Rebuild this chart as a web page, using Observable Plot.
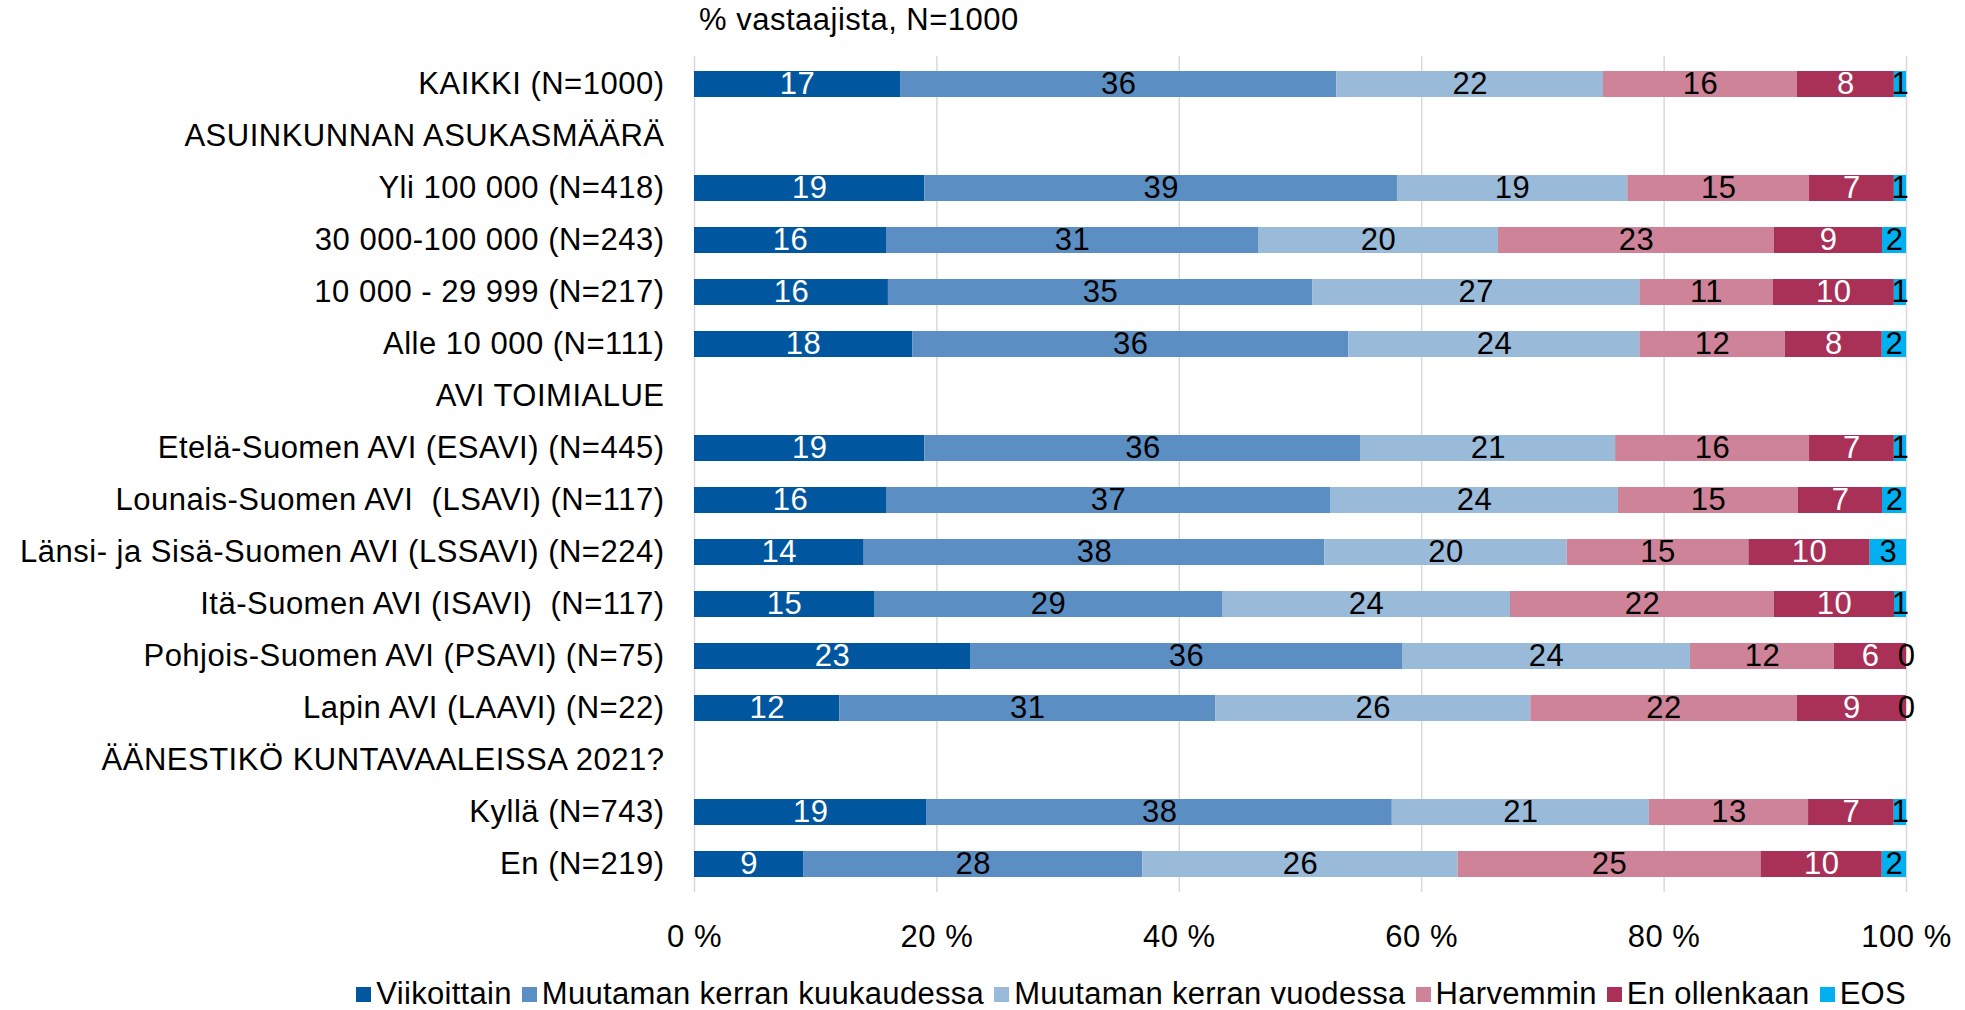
<!DOCTYPE html>
<html><head><meta charset="utf-8">
<script src="https://cdn.jsdelivr.net/npm/d3@7"></script>
<script src="https://cdn.jsdelivr.net/npm/@observablehq/plot@0.6"></script>
<style>
body{margin:0;background:#fff;font-family:"Liberation Sans",Arial,sans-serif;color:#000;}
#wrap{position:relative;width:1965px;height:1010px;overflow:hidden;}
#sub{position:absolute;left:699px;top:0;height:40px;line-height:40px;font-size:31px;letter-spacing:0.5px;}
#chart{position:absolute;left:0;top:40px;}
#legend{position:absolute;right:59px;top:979px;display:flex;align-items:center;font-size:31px;line-height:30px;white-space:nowrap;letter-spacing:0.3px;}
.item{display:flex;align-items:center;margin-left:10px;}
.sw{width:15px;height:15px;margin-right:5px;}
svg text{white-space:pre;letter-spacing:0.5px;}
</style></head><body>
<div id="wrap">
<div id="sub">% vastaajista, N=1000</div>
<div id="chart"></div>
<div id="legend"></div>
</div>
<script>
const rows = ["KAIKKI (N=1000)","ASUINKUNNAN ASUKASMÄÄRÄ","Yli 100 000 (N=418)","30 000-100 000 (N=243)","10 000 - 29 999 (N=217)","Alle 10 000 (N=111)","AVI TOIMIALUE","Etelä-Suomen AVI (ESAVI) (N=445)","Lounais-Suomen AVI  (LSAVI) (N=117)","Länsi- ja Sisä-Suomen AVI (LSSAVI) (N=224)","Itä-Suomen AVI (ISAVI)  (N=117)","Pohjois-Suomen AVI (PSAVI) (N=75)","Lapin AVI (LAAVI) (N=22)","ÄÄNESTIKÖ KUNTAVAALEISSA 2021?","Kyllä (N=743)","En (N=219)"];
const groups = ["KAIKKI (N=1000)","Yli 100 000 (N=418)","30 000-100 000 (N=243)","10 000 - 29 999 (N=217)","Alle 10 000 (N=111)","Etelä-Suomen AVI (ESAVI) (N=445)","Lounais-Suomen AVI  (LSAVI) (N=117)","Länsi- ja Sisä-Suomen AVI (LSSAVI) (N=224)","Itä-Suomen AVI (ISAVI)  (N=117)","Pohjois-Suomen AVI (PSAVI) (N=75)","Lapin AVI (LAAVI) (N=22)","Kyllä (N=743)","En (N=219)"];
const seriesNames = ["Viikoittain","Muutaman kerran kuukaudessa","Muutaman kerran vuodessa","Harvemmin","En ollenkaan","EOS"];
const viikoittain = [17,19,16,16,18,19,16,14,15,23,12,19,9];
const kuukausi    = [36,39,31,35,36,36,37,38,29,36,31,38,28];
const vuosi       = [22,19,20,27,24,21,24,20,24,24,26,21,26];
const harvemmin   = [16,15,23,11,12,16,15,15,22,12,22,13,25];
const eiOllenkaan = [8,7,9,10,8,7,7,10,10,6,9,7,10];
const eos         = [1,1,2,1,2,1,2,3,1,0,0,1,2];
const xTicks = [0,0.2,0.4,0.6,0.8,1];
const colors = ["#0057a0","#5b8fc4","#9abad9","#ce8399","#a93158","#00b0f0"];
const labelColors = ["white","black","black","black","white","black"];

const seriesValues = [viikoittain,kuukausi,vuosi,harvemmin,eiOllenkaan,eos];
const table = [];
groups.forEach((g,i)=>{
  seriesNames.forEach((s,j)=>{
    table.push({row:g, series:s, si:j, value:seriesValues[j][i]});
  });
});

const font = '"Liberation Sans", Arial, sans-serif';
const chart = Plot.plot({
  width:1965, height:942,
  marginLeft:694, marginRight:59, marginTop:16, marginBottom:90,
  style:{fontFamily:font, fontSize:"31px", color:"#000", background:"#fff", overflow:"visible"},
  x:{domain:[0,1], ticks:xTicks, tickSize:0, tickPadding:32, tickFormat:d=>Math.round(d*100)+" %", label:null},
  y:{domain:rows, padding:0, tickSize:0, tickPadding:30, label:null},
  color:{type:"identity"},
  marks:[
    Plot.ruleX(xTicks, {stroke:"#d9d9d9", strokeWidth:1.5}),
    Plot.barX(table, Plot.stackX({x:"value", y:"row", z:"series", fill:d=>colors[d.si], offset:"normalize", insetTop:13, insetBottom:13})),
    Plot.textX(table, Plot.stackX({x:"value", y:"row", z:"series", text:d=>String(d.value), fill:d=>labelColors[d.si], offset:"normalize", fontSize:31}))
  ]
});
document.getElementById("chart").appendChild(chart);

const legend = document.getElementById("legend");
seriesNames.forEach((s,j)=>{
  const it = document.createElement("div"); it.className="item";
  const sw = document.createElement("div"); sw.className="sw"; sw.style.background=colors[j];
  const tx = document.createElement("span"); tx.textContent=s;
  it.appendChild(sw); it.appendChild(tx); legend.appendChild(it);
});
</script>
</body></html>
